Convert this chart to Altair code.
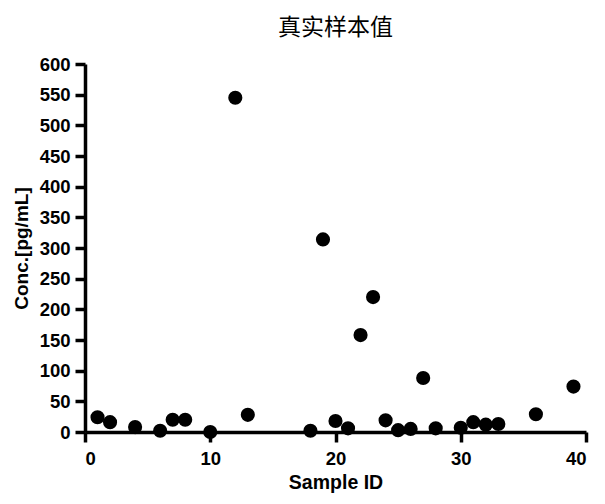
import altair as alt
import pandas as pd

sample_id = [1, 2, 4, 6, 7, 8, 10, 12, 13, 18, 19, 20, 21, 22, 23, 24, 25, 26, 27, 28, 30, 31, 32, 33, 36, 39]
conc = [24, 16, 8, 2, 20, 20, 0, 545, 28, 2, 314, 18, 6, 158, 220, 19, 3, 5, 88, 6, 7, 16, 12, 13, 29, 74]

df = pd.DataFrame({"Sample ID": sample_id, "Conc": conc})

font = "Liberation Sans"

common = dict(grid=False, domainColor="black", domainWidth=3.5, tickColor="black", tickWidth=3.5,
              tickSize=10, labelFont=font, labelFontSize=18.5, labelFontWeight="bold",
              labelColor="black", titleFont=font, titleFontWeight="bold", titleColor="black")

chart = alt.Chart(df).mark_circle(size=200, color="black", opacity=1).encode(
    x=alt.X("Sample ID:Q",
            scale=alt.Scale(domain=[0, 40], nice=False, zero=False),
            axis=alt.Axis(title="Sample ID", values=[0, 10, 20, 30, 40], labelPadding=7,
                          titleFontSize=19.5, titlePadding=6, **common)),
    y=alt.Y("Conc:Q",
            scale=alt.Scale(domain=[0, 600], nice=False),
            axis=alt.Axis(title="Conc.[pg/mL]", values=list(range(0, 601, 50)), labelPadding=5,
                          titleFontSize=19, titlePadding=8, **common)),
).properties(
    width=501,
    height=368,
    title=alt.TitleParams("真实样本值", font="Noto Sans CJK SC", fontSize=23, fontWeight="normal",
                          color="black", anchor="middle", offset=15),
    autosize=alt.AutoSizeParams(type="none"),
    padding={"left": 77, "top": 56, "right": 11, "bottom": 64},
).configure_view(stroke=None)

chart.save("out.html", embed_options={"renderer": "svg", "actions": False})
